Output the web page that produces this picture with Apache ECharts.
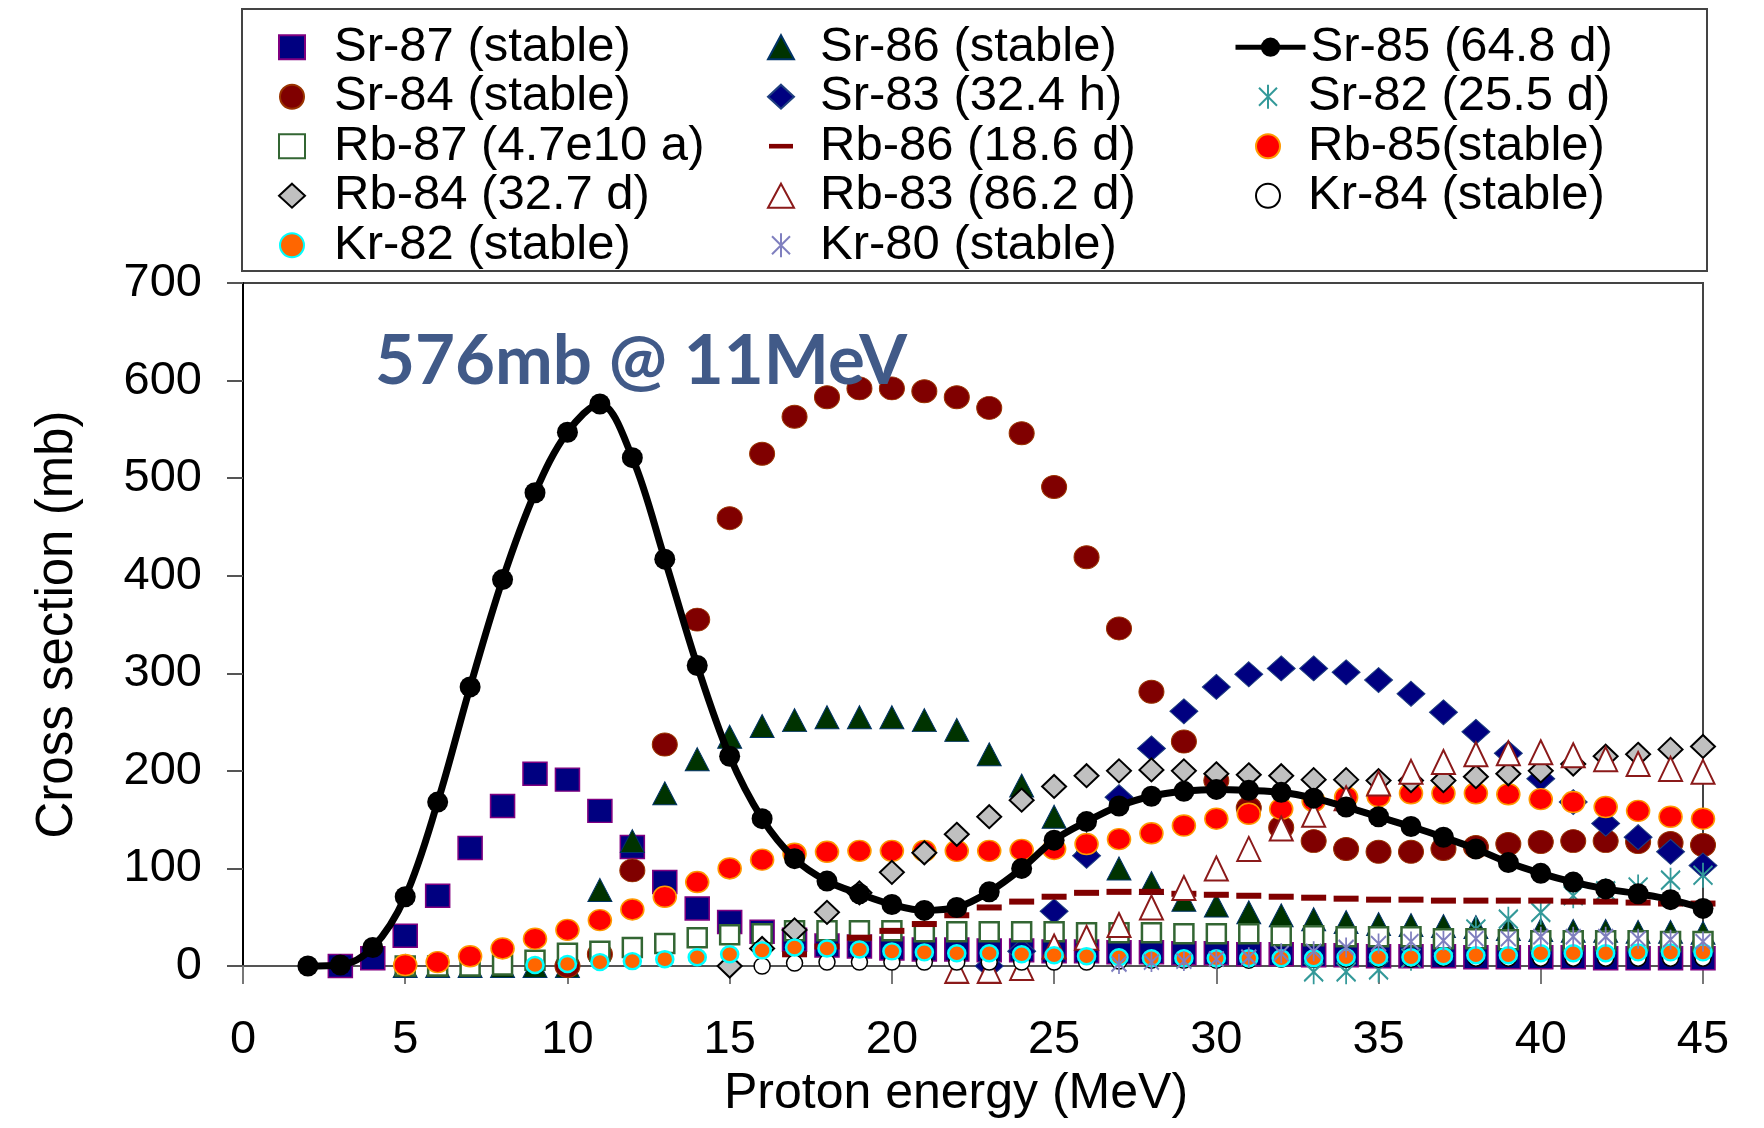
<!DOCTYPE html>
<html>
<head>
<meta charset="utf-8">
<script src="https://cdn.jsdelivr.net/npm/echarts@6/dist/echarts.min.js"></script>
<style>
  html, body { margin: 0; padding: 0; background: #fff; }
  #chart { width: 1764px; height: 1128px; }
</style>
</head>
<body>
<div id="chart"></div>
<script>
// Proton energy (MeV)
const energy = [2,3,4,5,6,7,8,9,10,11,12,13,14,15,16,17,18,19,20,21,22,23,24,25,26,27,28,29,30,31,32,33,34,35,36,37,38,39,40,41,42,43,44,45];

// Cross sections (mb), aligned with energy; null = no point
const sr87 = [null,0,8,31,72,121,164,197,191,159,122,86,59,45,35,27,21,20,18,17,17,16,16,15,15,14,14,13,13,12,12,11,11,10,10,10,9,9,9,9,8,8,8,8];
const sr86 = [null,null,null,0,0,0,0,0,0,78,128,177,212,235,246,252,255,255,255,252,242,217,185,153,125,100,85,68,62,55,52,48,45,43,42,41,40,38,37,36,36,35,35,34];
const sr85 = [0,1,19,71,168,286,396,485,547,576,521,417,308,215,151,110,87,74,63,57,60,76,100,129,148,164,174,179,181,180,178,172,163,153,143,132,120,106,95,86,79,74,68,59];
const sr84 = [null,null,null,null,null,null,null,null,0,12,98,227,355,459,525,563,583,592,592,589,583,572,546,491,419,346,281,230,190,162,142,128,120,117,117,120,122,125,127,128,128,127,126,124];
const sr83 = [null,null,null,null,null,null,null,null,null,null,null,null,null,null,null,null,null,null,null,null,null,0,15,56,113,173,223,261,286,299,305,305,301,293,279,260,240,218,192,168,146,132,117,103];
const sr82 = [null,null,null,null,null,null,null,null,null,null,null,null,null,null,null,null,null,null,null,null,null,null,null,null,null,null,null,null,null,null,null,-6,-6,-4,8,22,38,48,55,72,77,81,88,93];
const rb87 = [null,null,null,0,0,0,1,6,13,15,19,23,29,32,33,36,36,36,36,35,35,35,35,35,34,34,34,33,33,33,31,31,30,30,30,28,28,27,26,26,26,26,25,25];
const rb86 = [null,null,null,null,null,null,null,null,null,null,null,null,null,null,null,12,20,29,36,43,52,60,66,71,75,76,76,74,73,72,71,70,69,68,68,67,67,67,67,66,66,65,64,64];
const rb85 = [null,null,null,1,4,10,18,28,37,47,58,71,86,100,109,115,117,118,118,118,118,118,119,120,125,130,136,144,151,156,161,169,173,174,177,177,177,176,171,168,163,159,153,151];
const rb84 = [null,null,null,null,null,null,null,null,null,null,null,null,null,0,18,37,55,75,96,116,135,153,170,184,195,200,201,200,197,196,195,191,191,190,190,190,194,197,200,207,215,217,222,225];
const rb83 = [null,null,null,null,null,null,null,null,null,null,null,null,null,null,null,null,null,null,null,null,-5,-5,-2,20,29,42,60,80,100,120,141,155,172,187,199,209,217,218,219,216,212,207,202,199];
const kr84 = [null,null,null,null,null,null,null,null,null,null,null,null,null,null,0,3,4,4,4,4,4,4,4,4,4,5,6,6,6,6,7,7,7,7,7,8,8,8,8,8,8,8,8,8];
const kr82 = [null,null,null,null,null,null,null,1,2,4,5,7,9,12,16,19,18,17,15,14,13,13,12,11,10,9,8,8,8,8,8,8,9,9,9,10,11,11,13,13,13,14,14,14];
const kr80 = [null,null,null,null,null,null,null,null,null,null,null,null,null,null,null,null,null,null,null,null,null,null,null,null,null,2,4,5,7,9,13,15,19,23,25,26,28,28,30,30,30,28,27,25];

// Axis ticks
const xTicks = [0,5,10,15,20,25,30,35,40,45];
const yTicks = [0,100,200,300,400,500,600,700];

const names = {
  sr87: 'Sr-87 (stable)', sr86: 'Sr-86 (stable)', sr85: 'Sr-85 (64.8 d)',
  sr84: 'Sr-84 (stable)', sr83: 'Sr-83 (32.4 h)', sr82: 'Sr-82 (25.5 d)',
  rb87: 'Rb-87 (4.7e10 a)', rb86: 'Rb-86 (18.6 d)', rb85: 'Rb-85(stable)',
  rb84: 'Rb-84 (32.7 d)', rb83: 'Rb-83 (86.2 d)', kr84: 'Kr-84 (stable)',
  kr82: 'Kr-82 (stable)', kr80: 'Kr-80 (stable)'
};

function pairs(arr) {
  const out = [];
  arr.forEach((v, i) => { if (v !== null) out.push([energy[i], v]); });
  return out;
}

const asterisk = 'path://M10,0 L10,20 M2.5,2.5 L17.5,17.5 M2.5,17.5 L17.5,2.5';
const dashIcon = 'path://M0,0 M26,26 M0,10.5 L26,10.5 L26,15.5 L0,15.5 Z';

function sc(name, arr, symbol, size, itemStyle) {
  itemStyle.opacity = 1;
  return {
    type: 'scatter', name: name, data: pairs(arr), symbol: symbol, symbolSize: size,
    itemStyle: itemStyle, clip: false, silent: true
  };
}

const series = [
  sc(names.sr87, sr87, 'rect', [24, 23], {color: '#000080', borderColor: '#800080', borderWidth: 1.5}),
  sc(names.sr86, sr86, 'triangle', [24, 23], {color: '#003300', borderColor: '#003366', borderWidth: 1}),
  sc(names.sr84, sr84, 'circle', [25, 23], {color: '#800000', borderColor: '#993300', borderWidth: 1}),
  sc(names.sr83, sr83, 'diamond', [28, 25], {color: '#000080', borderColor: '#1f3f7f', borderWidth: 1}),
  sc(names.sr82, sr82, asterisk, [19, 25], {color: 'none', borderColor: '#339999', borderWidth: 2}),
  {
    type: 'line', name: names.sr85, data: pairs(sr85), smooth: 0.35,
    symbol: 'circle', symbolSize: 21, showAllSymbol: true, clip: false, silent: true,
    lineStyle: {color: '#000', width: 7},
    itemStyle: {color: '#000', opacity: 1}
  },
  sc(names.rb87, rb87, 'rect', [19, 19], {color: '#ffffff', borderColor: '#336633', borderWidth: 2.5}),
  sc(names.rb86, rb86, 'rect', [25, 6], {color: '#800000'}),
  sc(names.rb85, rb85, 'circle', [23, 21], {color: '#ff0000', borderColor: '#ff9900', borderWidth: 1.5}),
  sc(names.rb84, rb84, 'diamond', [24, 23], {color: '#c0c0c0', borderColor: '#000000', borderWidth: 2}),
  sc(names.rb83, rb83, 'triangle', [23, 24], {color: '#ffffff', borderColor: '#8b1a1a', borderWidth: 2}),
  sc(names.kr84, kr84, 'circle', [16, 16], {color: '#ffffff', borderColor: '#000000', borderWidth: 1.5}),
  sc(names.kr82, kr82, 'circle', [17, 16], {color: '#ff6600', borderColor: '#00ffff', borderWidth: 2.5}),
  sc(names.kr80, kr80, asterisk, [15, 20], {color: 'none', borderColor: '#7f7fbf', borderWidth: 2})
];

const FONT = '"Liberation Sans", Arial, sans-serif';
const rowTop = 22.7, rowStep = 49.5;
function legendCol(left, top, data, itemWidth, padLeft, extra) {
  return Object.assign({
    orient: 'vertical', left: left, top: top, itemWidth: itemWidth, itemHeight: 24,
    itemGap: rowStep - 49, padding: 0, selectedMode: false, data: data,
    textStyle: {fontSize: 49, fontFamily: FONT, color: '#000', padding: [0, 0, 0, padLeft]}
  }, extra || {});
}

const option = {
  animation: false,
  backgroundColor: '#ffffff',
  grid: {left: 243, right: 61, top: 283, bottom: 162, show: true, borderColor: '#444', borderWidth: 2, backgroundColor: 'transparent'},
  legend: [
    legendCol(278, rowTop, [names.sr87, names.sr84, names.rb87, names.rb84, names.kr82], 26, 24),
    legendCol(767, rowTop, [names.sr86, names.sr83, {name: names.rb86, icon: dashIcon}, names.rb83, names.kr80], 26, 21),
    legendCol(1233, rowTop, [names.sr85], 70, 0, {lineStyle: {width: 5}}),
    legendCol(1255, rowTop + rowStep, [names.sr82, names.rb85, names.kr84], 26, 22)
  ],
  xAxis: {
    type: 'value', min: xTicks[0], max: xTicks[xTicks.length - 1], interval: 5,
    name: 'Proton energy (MeV)', nameLocation: 'middle', nameGap: 102,
    nameTextStyle: {fontSize: 50, fontFamily: FONT, color: '#000', padding: [0, 34, 0, 0]},
    axisLine: {show: true, onZero: false, lineStyle: {color: '#555', width: 2}},
    axisTick: {show: true, length: 18, lineStyle: {color: '#777', width: 2}},
    axisLabel: {fontSize: 47, fontFamily: FONT, color: '#000', margin: 51},
    splitLine: {show: false}
  },
  yAxis: {
    type: 'value', min: yTicks[0], max: yTicks[yTicks.length - 1], interval: 100,
    name: 'Cross section (mb)', nameLocation: 'middle', nameGap: 160,
    nameTextStyle: {fontSize: 51, fontFamily: FONT, color: '#000'},
    axisLine: {show: true, onZero: false, lineStyle: {color: '#000', width: 2}},
    axisTick: {show: true, length: 16, lineStyle: {color: '#555', width: 2}},
    axisLabel: {fontSize: 47, fontFamily: FONT, color: '#000', margin: 41},
    splitLine: {show: false}
  },
  graphic: [
    {type: 'rect', shape: {x: 242, y: 9, width: 1465, height: 262},
     style: {fill: 'none', stroke: '#444', lineWidth: 2}, silent: true},
    {type: 'text', x: 375, y: 362,
     style: {text: '576mb @ 11MeV', fontSize: 69, fontWeight: 'bold', fontFamily: 'Lato, "Open Sans", sans-serif',
             fill: '#415a88', verticalAlign: 'middle', align: 'left'}, silent: true, z: 100}
  ],
  series: series
};

const chart = echarts.init(document.getElementById('chart'), null, {renderer: 'canvas'});
chart.setOption(option);
</script>
</body>
</html>
